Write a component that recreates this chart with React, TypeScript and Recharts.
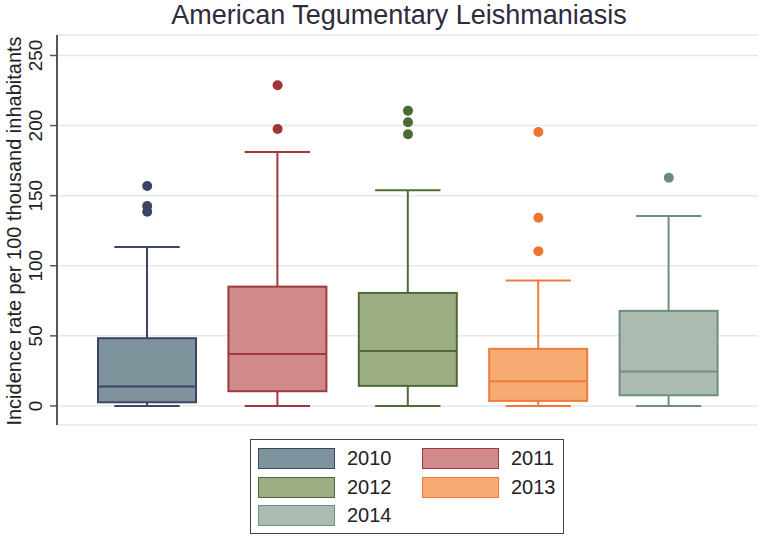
import React from "react";
import { ComposedChart, Bar, Line, XAxis, YAxis, CartesianGrid } from "recharts";

const years = ["2010", "2011", "2012", "2013", "2014"];
const mins = [0, 0, 0, 0, 0];
const q1s = [2.6, 10.5, 14.3, 3.6, 7.6];
const medians = [13.8, 37.1, 39.2, 17.6, 24.5];
const q3s = [48.3, 85.1, 80.6, 40.7, 67.8];
const maxs = [113.4, 181.2, 153.8, 89.4, 135.5];
const outliers = [
  [156.9, 142.6, 138.5],
  [228.8, 197.5],
  [210.6, 202.3, 193.8],
  [195.4, 134.3, 110.3],
  [162.8],
];
const yTicks = [0, 50, 100, 150, 200, 250];

const fills = ["#7f939c", "#cf8a89", "#9cad84", "#f6ab73", "#abbbb0"];
const strokes = ["#3b4462", "#a0393b", "#4e6b36", "#f07a3a", "#6f8e81"];
const dotColors = ["#3b4462", "#a23336", "#4a6a32", "#f07432", "#6a8a7e"];

const FONT = '"Liberation Sans", Arial, sans-serif';

const data = years.map((year, i) => ({
  year,
  i,
  min: mins[i],
  q1: q1s[i],
  median: medians[i],
  q3: q3s[i],
  max: maxs[i],
  base: q1s[i],
  box: q3s[i] - q1s[i],
  o1: outliers[i][0] ?? null,
  o2: outliers[i][1] ?? null,
  o3: outliers[i][2] ?? null,
}));

// box + whiskers, scaled from the bar's own pixel height
const BoxShape = (props: any) => {
  const { x, y, width, height, payload } = props;
  const d = payload;
  const k = height / (d.q3 - d.q1);
  const cx = x + width / 2;
  const bottom = y + height;
  const yMed = bottom - (d.median - d.q1) * k;
  const yMax = y - (d.max - d.q3) * k;
  const yMin = bottom + (d.q1 - d.min) * k;
  const cap = (width * 2) / 3;
  const c = strokes[d.i];
  return (
    <g>
      <line x1={cx} x2={cx} y1={y} y2={yMax} stroke={c} strokeWidth={2} />
      <line x1={cx - cap / 2} x2={cx + cap / 2} y1={yMax} y2={yMax} stroke={c} strokeWidth={2} />
      <line x1={cx} x2={cx} y1={bottom} y2={yMin} stroke={c} strokeWidth={2} />
      <line x1={cx - cap / 2} x2={cx + cap / 2} y1={yMin} y2={yMin} stroke={c} strokeWidth={2} />
      <rect x={x} y={y} width={width} height={height} fill={fills[d.i]} stroke={c} strokeWidth={2} />
      <line x1={x} x2={x + width} y1={yMed} y2={yMed} stroke={c} strokeWidth={2} />
    </g>
  );
};

const OutlierDot = (props: any) => {
  const { cx, cy, payload, index, dataKey } = props;
  const key = `${dataKey}-${index}`;
  if (cy == null || isNaN(cy) || payload[dataKey] == null) return <g key={key} />;
  return <circle key={key} cx={cx} cy={cy} r={5} fill={dotColors[payload.i]} />;
};

const YTick = (props: any) => {
  const { x, y, payload } = props;
  return (
    <text
      x={x}
      y={y}
      transform={`rotate(-90, ${x}, ${y})`}
      textAnchor="middle"
      fontSize={19}
      fontFamily={FONT}
      fill="#222"
    >
      {payload.value}
    </text>
  );
};

const YLabel = (props: any) => {
  const vb = props.viewBox || { y: 35, height: 390 };
  const cy = vb.y + vb.height / 2 + 1;
  return (
    <text
      x={21}
      y={cy}
      transform={`rotate(-90, 21, ${cy})`}
      textAnchor="middle"
      fontSize={20}
      fontFamily={FONT}
      fill="#222"
    >
      Incidence rate per 100 thousand inhabitants
    </text>
  );
};

export default function App() {
  return (
    <div style={{ position: "absolute", left: 0, top: 0, width: 762, height: 538, background: "#fff", fontFamily: FONT }}>
      <div
        style={{
          position: "absolute",
          left: 0,
          top: 2,
          width: 798,
          textAlign: "center",
          fontSize: 27,
          lineHeight: "27px",
          color: "#2d2b3d",
        }}
      >
        American Tegumentary Leishmaniasis
      </div>
      <div style={{ position: "absolute", left: 0, top: 0 }}>
        <ComposedChart width={762} height={430} data={data} margin={{ top: 35, right: 4, bottom: 5, left: 0 }}>
          <CartesianGrid vertical={false} stroke="#e3ebea" strokeWidth={1.5} />
          <XAxis
            dataKey="year"
            type="category"
            padding={{ left: 25, right: 24 }}
            tick={false}
            tickLine={false}
            height={0}
            axisLine={{ stroke: "#666", strokeWidth: 2 }}
          />
          <YAxis
            type="number"
            domain={[-13.6, 264.6]}
            allowDataOverflow
            ticks={yTicks}
            width={57}
            tickSize={7}
            tickMargin={8}
            axisLine={{ stroke: "#555", strokeWidth: 2 }}
            tickLine={{ stroke: "#555", strokeWidth: 1.5 }}
            tick={<YTick />}
            label={YLabel}
          />
          <Bar dataKey="base" stackId="a" fill="transparent" barSize={98} isAnimationActive={false} />
          <Bar dataKey="box" stackId="a" barSize={98} shape={BoxShape} isAnimationActive={false} />
          {["o1", "o2", "o3"].map((k) => (
            <Line
              key={k}
              dataKey={k}
              stroke="none"
              dot={(p: any) => OutlierDot({ ...p, dataKey: k })}
              activeDot={false}
              connectNulls={false}
              isAnimationActive={false}
            />
          ))}
        </ComposedChart>
      </div>
      <div
        style={{
          position: "absolute",
          left: 250,
          top: 439,
          width: 314,
          height: 95,
          border: "1px solid #444",
          boxSizing: "border-box",
        }}
      >
        {years.map((yr, i) => {
          const col = i % 2;
          const row = Math.floor(i / 2);
          const left = 7 + col * 164;
          const top = 8 + row * 28.5;
          return (
            <React.Fragment key={yr}>
              <div
                style={{
                  position: "absolute",
                  left,
                  top,
                  width: 77,
                  height: 21,
                  boxSizing: "border-box",
                  background: fills[i],
                  border: `1.5px solid ${strokes[i]}`,
                }}
              />
              <div
                style={{
                  position: "absolute",
                  left: left + 89,
                  top: top - 1,
                  fontSize: 20,
                  lineHeight: "23px",
                  color: "#222",
                }}
              >
                {yr}
              </div>
            </React.Fragment>
          );
        })}
      </div>
    </div>
  );
}
